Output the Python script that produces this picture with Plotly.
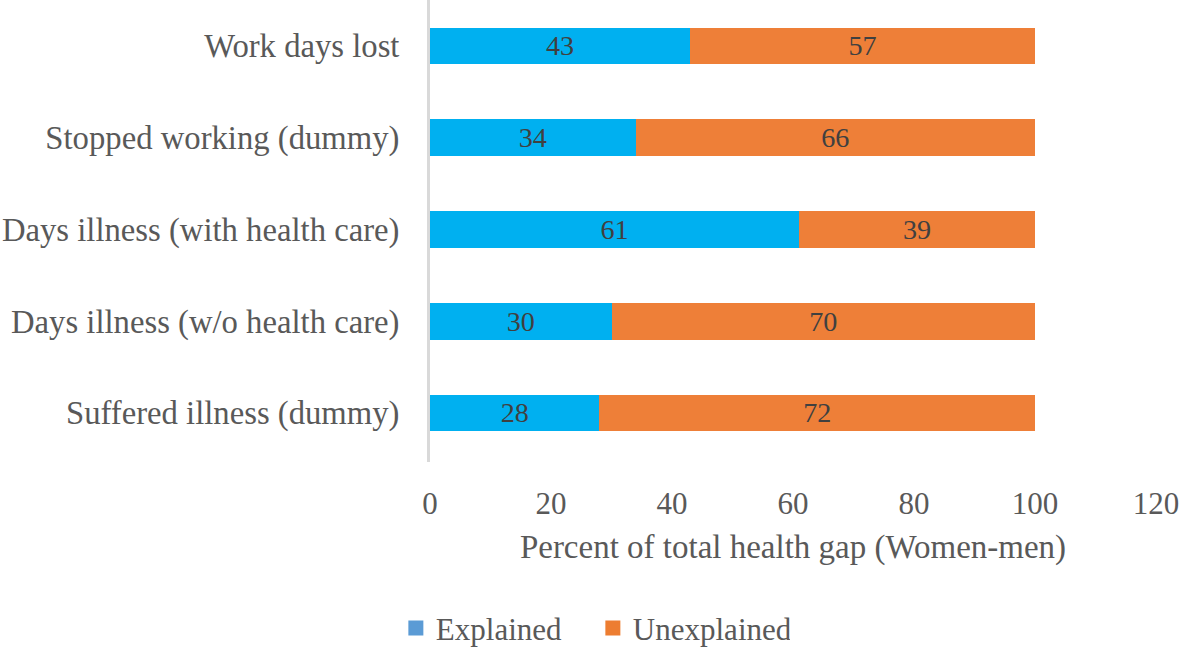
import plotly.graph_objects as go

categories = ["Suffered illness (dummy)", "Days illness (w/o health care)",
              "Days illness (with health care)", "Stopped working (dummy)", "Work days lost"]
explained = [28, 30, 61, 34, 43]
unexplained = [72, 70, 39, 66, 57]
x_ticks = [0, 20, 40, 60, 80, 100, 120]

FONT = "Liberation Serif"
BLUE = "#00B0F0"
ORANGE = "#EE7F38"

fig = go.Figure()
fig.add_trace(go.Bar(
    y=categories, x=explained, name="Explained", orientation="h",
    marker=dict(color=BLUE, line=dict(width=0)), showlegend=False,
    text=explained, textposition="inside", insidetextanchor="middle", textangle=0,
    textfont=dict(family=FONT, size=33, color="#404040"),
))
fig.add_trace(go.Bar(
    y=categories, x=unexplained, name="Unexplained", orientation="h",
    marker=dict(color=ORANGE, line=dict(width=0)), showlegend=False,
    text=unexplained, textposition="inside", insidetextanchor="middle", textangle=0,
    textfont=dict(family=FONT, size=33, color="#404040"),
))
# legend entries (square swatches as in the reference)
fig.add_trace(go.Scatter(x=[None], y=[None], mode="markers", name="Explained",
                         marker=dict(symbol="square", size=15, color="#5B9BD5")))
fig.add_trace(go.Scatter(x=[None], y=[None], mode="markers", name="Unexplained",
                         marker=dict(symbol="square", size=15, color="#ED7D31")))

fig.update_layout(
    barmode="stack",
    bargap=0.6,
    width=1181, height=647,
    margin=dict(l=430, r=25, t=0, b=185, autoexpand=False),
    plot_bgcolor="white", paper_bgcolor="white",
    font=dict(family=FONT, size=30, color="#595959"),
    uniformtext=dict(minsize=20, mode="show"),
    xaxis=dict(
        range=[0, 120], tickvals=x_ticks, showgrid=False, zeroline=False,
        showline=False, ticks="", ticklabelstandoff=20, automargin=False,
        tickangle=0,
        tickfont=dict(family=FONT, size=31, color="#595959"),
        title=dict(text="Percent of total health gap (Women-men)", standoff=14,
                   font=dict(family=FONT, size=33, color="#595959")),
    ),
    yaxis=dict(
        categoryorder="array", categoryarray=categories,
        range=[-0.534, 4.5], automargin=False,
        showgrid=False, zeroline=False, showline=True, linecolor="#D9D9D9", linewidth=3,
        ticks="", ticklabelstandoff=21,
        tickfont=dict(family=FONT, size=32.7, color="#595959"),
    ),
    legend=dict(orientation="h", xref="container", x=0.502, xanchor="center",
                y=-0.36, yanchor="middle", entrywidth=152, entrywidthmode="pixels",
                font=dict(family=FONT, size=31, color="#595959"),
                traceorder="normal"),
)

fig.write_html(
    "out.html",
    config={"displayModeBar": False},
    post_script="document.body.style.margin='0px';document.body.style.overflow='hidden';",
)
